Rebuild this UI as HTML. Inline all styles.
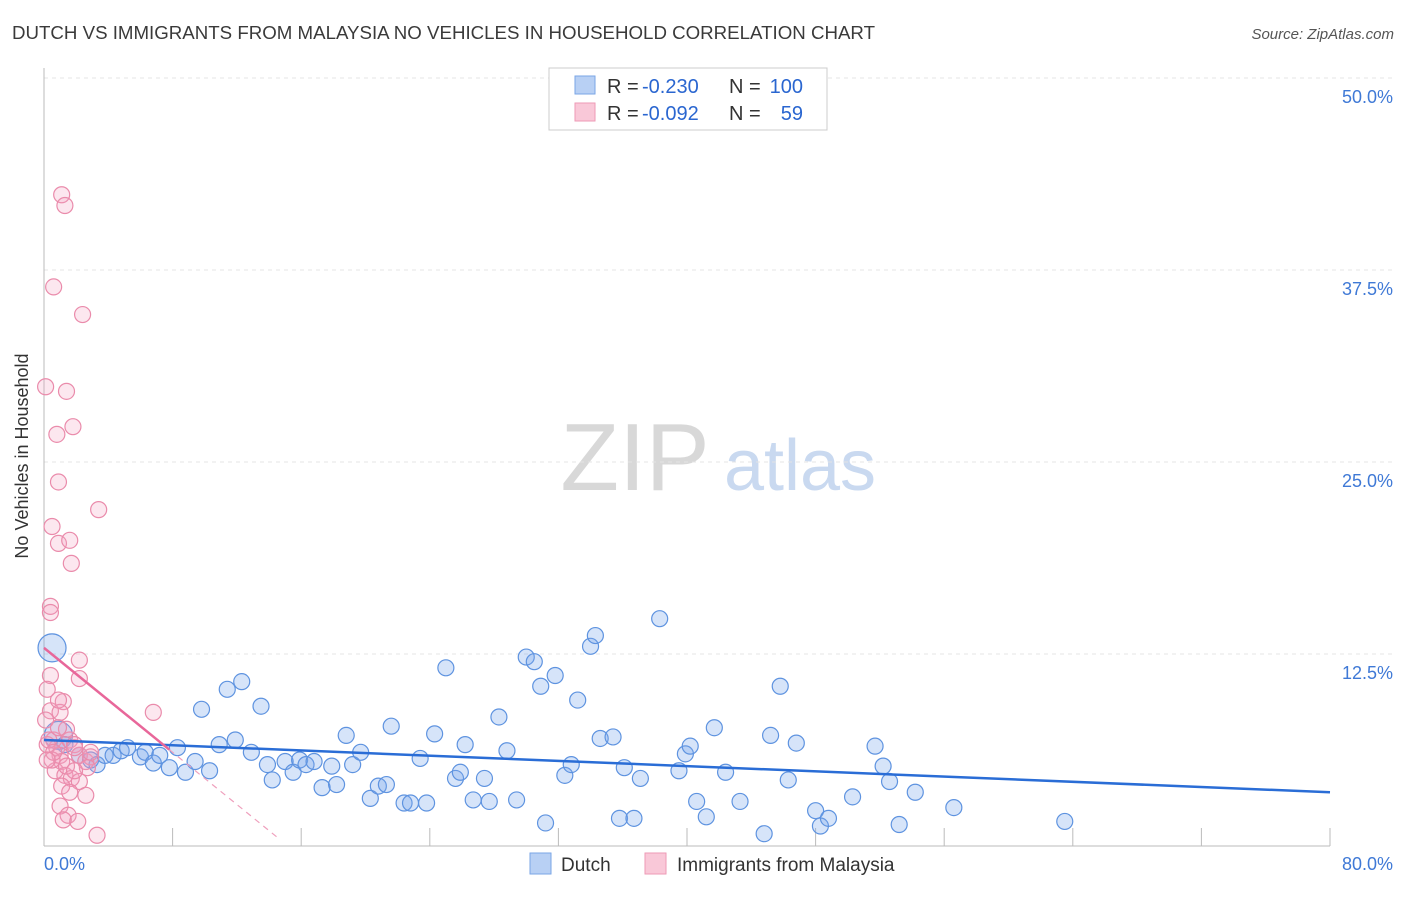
<!DOCTYPE html>
<html><head><meta charset="utf-8">
<style>
body{margin:0;background:#fff;font-family:"Liberation Sans",sans-serif;}
svg text{font-family:"Liberation Sans",sans-serif;}
</style></head>
<body>
<svg id="chart" width="1406" height="892" xmlns="http://www.w3.org/2000/svg">
<text x="12" y="39" font-size="18" fill="#3a3a3a" textLength="863" lengthAdjust="spacingAndGlyphs">DUTCH VS IMMIGRANTS FROM MALAYSIA NO VEHICLES IN HOUSEHOLD CORRELATION CHART</text>
<text x="1394" y="39" font-size="15" fill="#555" text-anchor="end" font-style="italic">Source: ZipAtlas.com</text>
<text x="28" y="456" font-size="18" fill="#333" text-anchor="middle" transform="rotate(-90 28 456)">No Vehicles in Household</text>
<g>
<text x="635" y="490" font-size="96" fill="#d8d8d8" text-anchor="middle" font-family="Liberation Serif,serif">ZIP</text>
<text x="800" y="490" font-size="72" fill="#c9d9f0" text-anchor="middle">atlas</text>
</g>
<g id="grid"></g>
<g id="axes"></g>
<g id="marks"></g>
<g>
<rect x="549" y="68" width="278" height="62" fill="#fff" stroke="#ccc"/>
<rect x="575" y="76" width="20" height="18" fill="#b8d0f4" stroke="#7aa6e6"/>
<rect x="575" y="103" width="20" height="18" fill="#f9c8d8" stroke="#ee9ab6"/>
<text x="607" y="93" font-size="20" fill="#333">R =</text>
<text x="642" y="93" font-size="20" fill="#2a66d0">-0.230</text>
<text x="729" y="93" font-size="20" fill="#333">N =</text>
<text x="803" y="93" font-size="20" fill="#2a66d0" text-anchor="end">100</text>
<text x="607" y="120" font-size="20" fill="#333">R =</text>
<text x="642" y="120" font-size="20" fill="#2a66d0">-0.092</text>
<text x="729" y="120" font-size="20" fill="#333">N =</text>
<text x="803" y="120" font-size="20" fill="#2a66d0" text-anchor="end">59</text>
</g>
<g>
<rect x="530" y="853" width="21" height="21" fill="#b8d0f4" stroke="#7aa6e6"/>
<text x="561" y="871" font-size="19" fill="#333">Dutch</text>
<rect x="645" y="853" width="21" height="21" fill="#f9c8d8" stroke="#ee9ab6"/>
<text x="677" y="871" font-size="19" fill="#333">Immigrants from Malaysia</text>
</g>
</svg>
<script>
const blueX=[0.5,0.9,1.3,2.2,2.9,3.3,3.8,4.3,4.8,5.2,6.0,6.3,6.8,7.2,7.8,8.3,8.8,9.4,9.8,10.3,10.9,11.4,11.9,12.3,12.9,13.5,13.9,14.2,15.0,15.5,15.9,16.3,16.8,17.3,17.9,18.2,18.8,19.2,19.7,20.3,20.8,21.3,21.6,22.4,22.8,23.4,23.8,24.3,25.0,25.6,25.9,26.2,26.7,27.4,27.7,28.3,28.8,29.4,30.0,30.5,30.9,31.2,31.8,32.4,32.8,33.2,34.0,34.3,34.6,35.4,35.8,36.1,36.7,37.1,38.3,39.5,39.9,40.2,40.6,41.2,41.7,42.4,43.3,44.8,45.2,45.8,46.3,46.8,48.0,48.3,48.8,50.3,51.7,52.2,52.6,53.2,54.2,56.6,63.5];
const blueY=[12.9,7.2,6.6,5.9,5.6,5.3,5.9,5.9,6.2,6.4,5.8,6.1,5.4,5.9,5.1,6.4,4.8,5.5,8.9,4.9,6.6,10.2,6.9,10.7,6.1,9.1,5.3,4.3,5.5,4.8,5.6,5.3,5.5,3.8,5.2,4.0,7.2,5.3,6.1,3.1,3.9,4.0,7.8,2.8,2.8,5.7,2.8,7.3,11.6,4.4,4.8,6.6,3.0,4.4,2.9,8.4,6.2,3.0,12.3,12.0,10.4,1.5,11.1,4.6,5.3,9.5,13.0,13.7,7.0,7.1,1.8,5.1,1.8,4.4,14.8,4.9,6.0,6.5,2.9,1.9,7.7,4.8,2.9,0.8,7.2,10.4,4.3,6.7,2.3,1.3,1.8,3.2,6.5,5.2,4.2,1.4,3.5,2.5,1.6];
const blueSize=[14,14];
const pinkX=[1.1,1.3,0.6,2.4,0.1,1.4,0.8,1.8,0.9,3.4,0.5,0.9,1.6,1.7,0.4,0.4,2.2,2.2,0.4,0.2,1.2,0.4,1.0,0.1,6.8,0.6,0.8,1.0,1.1,1.6,1.9,2.2,2.6,2.9,0.7,1.3,1.7,2.2,2.7,1.1,1.6,2.6,1.0,1.5,1.2,2.1,3.3,0.2,0.5,1.4,1.9,0.9,0.3,0.6,0.2,2.9,1.4,0.9,1.9];
const pinkY=[42.4,41.7,36.4,34.6,29.9,29.6,26.8,27.3,23.7,21.9,20.8,19.7,19.9,18.4,15.6,15.2,12.1,10.9,11.1,10.2,9.4,8.8,8.7,8.2,8.7,6.9,6.4,5.9,5.5,6.9,6.6,5.9,5.5,5.8,4.9,4.6,4.4,4.2,5.1,3.9,3.5,3.3,2.6,2.0,1.7,1.6,0.7,6.6,5.6,7.6,6.4,7.7,6.9,6.1,5.6,6.1,5.2,9.5,4.9];
const blueTrend=[6.9,3.5];
const pinkTrend=[12.9,-0.85];
const yTicks=[12.5,25.0,37.5,50.0];
const xTickVals=[0,8,16,24,32,40,48,56,64,72,80];
const NS='http://www.w3.org/2000/svg';
function sx(v){return 44+v/80*1286;}
function sy(v){return 846-v/12.5*192;}
function mk(tag,attrs,parent){const e=document.createElementNS(NS,tag);for(const k in attrs)e.setAttribute(k,attrs[k]);parent.appendChild(e);return e;}
const grid=document.getElementById('grid'),axes=document.getElementById('axes'),marks=document.getElementById('marks');
yTicks.forEach(t=>{
  const l=mk('line',{x1:44,x2:1394,y1:sy(t),y2:sy(t),stroke:'#e4e4e4','stroke-dasharray':'4,4'},grid);
  
  
  const tx=mk('text',{x:1393,y:sy(t)+25,'font-size':18,fill:'#3f79d6','text-anchor':'end'},axes);
  tx.textContent=t.toFixed(1)+'%';
  
  
});
const xa=mk('line',{x1:44,x2:1330,y1:846,y2:846,stroke:'#bbb'},axes);


const ya=mk('line',{x1:44,x2:44,y1:68,y2:846,stroke:'#bbb'},axes);


xTickVals.forEach(t=>{
  const l=mk('line',{x1:sx(t),x2:sx(t),y1:828,y2:846,stroke:'#bbb'},axes);
  
  
});
const xl0=mk('text',{x:44,y:870,'font-size':18,fill:'#3f79d6'},axes);xl0.textContent='0.0%';


const xl1=mk('text',{x:1393,y:870,'font-size':18,fill:'#3f79d6','text-anchor':'end'},axes);xl1.textContent='80.0%';


blueX.forEach((x,i)=>{
  const c=mk('circle',{cx:sx(x),cy:sy(blueY[i]),r:blueSize[i]||8,fill:'rgba(120,165,235,0.3)',stroke:'#5e93e0','stroke-width':1.2},marks);
  
  
});
pinkX.forEach((x,i)=>{
  const c=mk('circle',{cx:sx(x),cy:sy(pinkY[i]),r:8,fill:'rgba(245,160,190,0.25)',stroke:'#ea8bab','stroke-width':1.2},marks);
  
  
});
const bt=mk('line',{x1:sx(0),y1:sy(blueTrend[0]),x2:sx(80),y2:sy(blueTrend[1]),stroke:'#2a6dd6','stroke-width':2.5},marks);


const pe=7.8,pd=14.6;
const pt=mk('line',{x1:sx(0),y1:sy(pinkTrend[0]),x2:sx(pe),y2:sy(pinkTrend[0]+pinkTrend[1]*pe),stroke:'#e8679a','stroke-width':2.5},marks);


const pdl=mk('line',{x1:sx(pe),y1:sy(pinkTrend[0]+pinkTrend[1]*pe),x2:sx(pd),y2:sy(pinkTrend[0]+pinkTrend[1]*pd),stroke:'#efa0bd','stroke-width':1.2,'stroke-dasharray':'6,5'},marks);


</script>
</body></html>
